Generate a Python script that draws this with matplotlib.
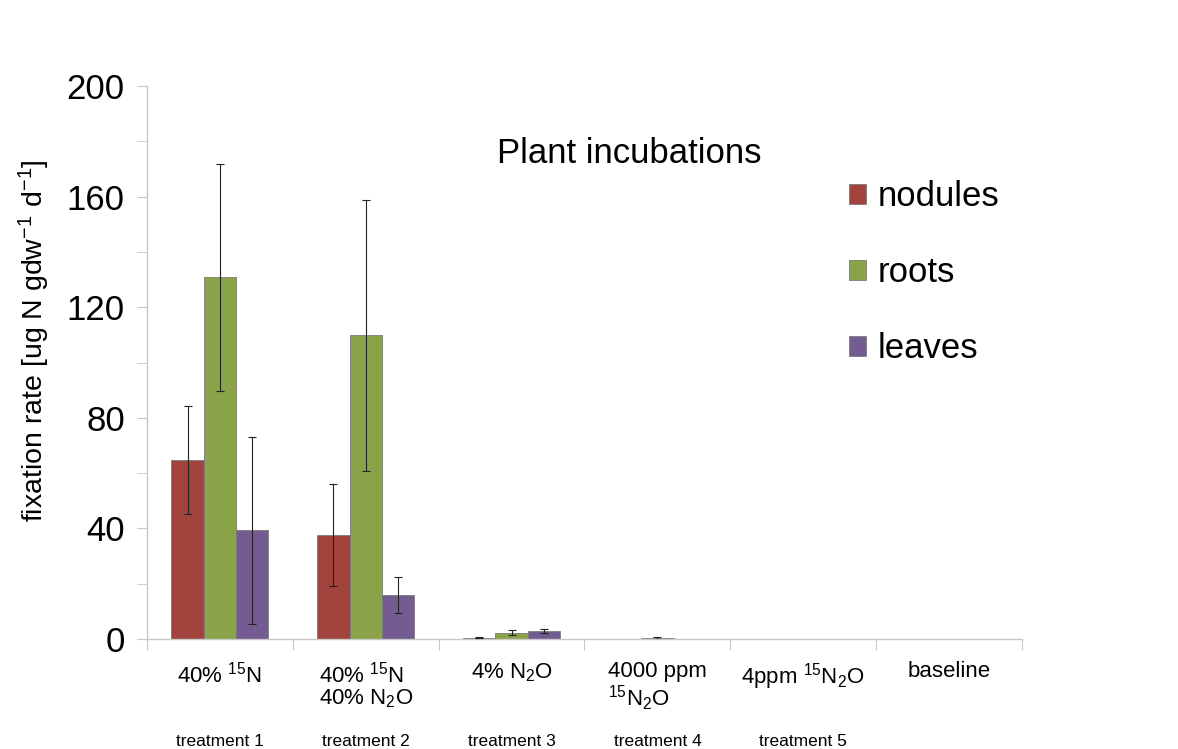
import numpy as np
import matplotlib.pyplot as plt
from matplotlib.ticker import MultipleLocator

plt.rcParams['font.family'] = ['Liberation Sans', 'DejaVu Sans']
plt.rcParams['mathtext.fontset'] = 'custom'
plt.rcParams['mathtext.rm'] = 'Liberation Sans'
plt.rcParams['mathtext.it'] = 'Liberation Sans'

# --- data ---
categories = ['40% $^{15}$N', '40% $^{15}$N\n40% N$_2$O', '4% N$_2$O',
              '4000 ppm\n$^{15}$N$_2$O', '4ppm $^{15}$N$_2$O', 'baseline']
treatments = ['treatment 1', 'treatment 2', 'treatment 3', 'treatment 4', 'treatment 5']

nodules = [64.7, 37.6, 0.5, 0.1, 0.1, 0.1]
nodules_err = [19.5, 18.5, 0.2, 0.0, 0.0, 0.0]
roots = [130.8, 109.8, 2.3, 0.2, 0.1, 0.1]
roots_err = [41.0, 49.0, 0.8, 0.4, 0.0, 0.0]
leaves = [39.4, 16.0, 2.8, 0.1, 0.1, 0.1]
leaves_err = [33.8, 6.5, 0.8, 0.0, 0.0, 0.0]

series = [('nodules', nodules, nodules_err, '#A3433D'),
          ('roots', roots, roots_err, '#8AA349'),
          ('leaves', leaves, leaves_err, '#745C92')]

fig = plt.figure(figsize=(11.78, 7.49), dpi=100)
ax = fig.add_axes([147 / 1178, 110 / 749, 875 / 1178, 553 / 749])

x = np.arange(len(categories))
w = 0.222
for i, (name, vals, errs, col) in enumerate(series):
    pos = x + (i - 1) * w
    ax.bar(pos, vals, width=w, color=col, edgecolor='#7a7a7a', linewidth=0.6,
           label=name, zorder=2)
    # only draw whiskers where there is an error
    keep = [j for j in range(len(vals)) if errs[j] > 0]
    ax.errorbar(pos[keep], np.array(vals)[keep], yerr=np.array(errs)[keep],
                fmt='none', ecolor='#222222', elinewidth=0.8, capsize=3,
                capthick=0.8, zorder=3)

ax.set_xlim(-0.5, len(categories) - 0.5)
ax.set_ylim(0, 200)
ax.yaxis.set_major_locator(MultipleLocator(40))
ax.yaxis.set_minor_locator(MultipleLocator(20))
ax.set_xticks(np.arange(len(categories) + 1) - 0.5)
ax.set_xticklabels([])

for s in ['top', 'right']:
    ax.spines[s].set_visible(False)
for s in ['left', 'bottom']:
    ax.spines[s].set_color('#c8c8c8')
    ax.spines[s].set_linewidth(1.0)

ax.tick_params(axis='y', which='major', length=7, color='#c8c8c8', labelsize=25, pad=9)
ax.tick_params(axis='y', which='minor', length=7, color='#c8c8c8')
ax.tick_params(axis='x', length=8, color='#c8c8c8')

ax.set_ylabel('fixation rate [ug N gdw$^{-1}$ d$^{-1}$]', fontsize=20.5)
ax.yaxis.set_label_coords(-0.108, 0.539)

# category labels and treatment labels under the axis
for i, lab in enumerate(categories):
    ax.text(i, -8, lab, ha='center', va='top', fontsize=16, multialignment='left',
            linespacing=1.05)
for i, lab in enumerate(treatments):
    ax.text(i, -37, lab, ha='center', va='center', fontsize=12.5)

ax.text(0.551, 0.878, 'Plant incubations', transform=ax.transAxes,
        ha='center', va='center', fontsize=25)

leg = ax.legend(loc='center left', bbox_to_anchor=(0.766, 0.662), frameon=False,
                fontsize=25, handlelength=0.5, handleheight=0.5,
                labelspacing=1.24, handletextpad=0.35)

fig.savefig('out.png', dpi=100)
